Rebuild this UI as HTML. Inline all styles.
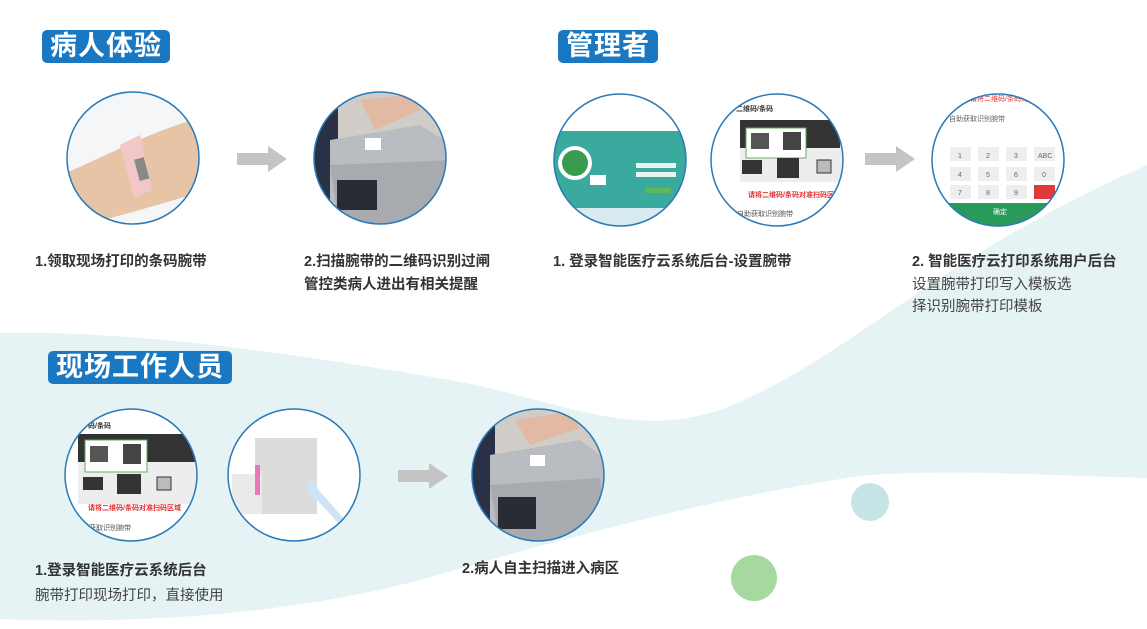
<!DOCTYPE html>
<html><head><meta charset="utf-8"><style>
html,body{margin:0;padding:0;background:#fff;}
body{width:1147px;height:629px;overflow:hidden;position:relative;font-family:"Liberation Sans","Noto Sans CJK SC",sans-serif;}
.h{position:absolute;background:#1a78c2;color:#fff;font-weight:bold;font-size:27px;line-height:33px;border-radius:5px;padding:0 8px;letter-spacing:1px;}
.t{position:absolute;color:#333;font-size:14.5px;font-weight:bold;white-space:nowrap;}
.n{position:absolute;color:#444;font-size:14.5px;white-space:nowrap;}
svg{position:absolute;left:0;top:0;}
</style></head><body>
<svg width="1147" height="629" viewBox="0 0 1147 629">
<defs>
<clipPath id="c1"><circle cx="133" cy="158" r="66"/></clipPath>
<clipPath id="c2"><circle cx="380" cy="158" r="66"/></clipPath>
<clipPath id="c3"><circle cx="620" cy="160" r="66"/></clipPath>
<clipPath id="c4"><circle cx="777" cy="160" r="66"/></clipPath>
<clipPath id="c5"><circle cx="998" cy="160" r="66"/></clipPath>
<clipPath id="c6"><circle cx="131" cy="475" r="66"/></clipPath>
<clipPath id="c7"><circle cx="294" cy="475" r="66"/></clipPath>
<clipPath id="c8"><circle cx="538" cy="475" r="66"/></clipPath>
</defs>
<path d="M0,333 C150,330 330,360 450,380 C560,400 630,440 720,410 C850,360 930,260 1147,165 L1147,478 C1050,476 950,468 860,476 C700,500 560,540 420,580 C300,612 150,625 0,619 Z" fill="#e6f3f4"/>
<circle cx="870" cy="502" r="19" fill="#c6e4e6"/>
<circle cx="754" cy="578" r="23" fill="#a6d8a0"/>
<g fill="#c4c4c4">
<path d="M237,153 H268 V146 L287,159 L268,172 V165 H237 Z"/>
<path d="M865,153 H896 V146 L915,159 L896,172 V165 H865 Z"/>
<path d="M398,470 H429 V463 L448,476 L429,489 V482 H398 Z"/>
</g>
<g clip-path="url(#c1)">
<rect x="60" y="90" width="150" height="140" fill="#f4f6f8"/>
<path d="M60,175 C100,160 150,130 210,115 L210,190 C170,200 130,215 60,230 Z" fill="#e8c4a6"/>
<path d="M120,145 L140,135 L152,190 L134,198 Z" fill="#f3c6c8"/>
<rect x="137" y="158" width="10" height="22" fill="#888" transform="rotate(-15 142 170)"/>
</g>
<circle cx="133" cy="158" r="66" fill="none" stroke="#2a7ab8" stroke-width="1.5"/>
<g clip-path="url(#c2)">
<rect x="310" y="90" width="150" height="140" fill="#d0cdc8"/>
<rect x="310" y="90" width="28" height="140" fill="#2a3046"/>
<path d="M330,140 L420,125 L460,150 L460,230 L330,230 Z" fill="#b9bcc0"/>
<path d="M330,165 L455,160 L460,230 L340,230 Z" fill="#a7abb0"/>
<rect x="365" y="138" width="16" height="12" fill="#fff"/>
<rect x="337" y="180" width="40" height="30" fill="#2a2c33"/>
<path d="M360,100 L410,95 L420,110 L375,130 Z" fill="#e2b9a3"/>
</g>
<circle cx="380" cy="158" r="66" fill="none" stroke="#2a7ab8" stroke-width="1.5"/>
<g clip-path="url(#c3)">
<rect x="550" y="90" width="140" height="140" fill="#fff"/>
<path d="M650,90 L690,90 L690,140 Z" fill="#cfe5ee"/>
<rect x="550" y="131" width="140" height="108" fill="#3aa99e"/>
<circle cx="575" cy="163" r="17" fill="#fff"/><circle cx="575" cy="163" r="13" fill="#3a9a4f"/>
<rect x="590" y="175" width="16" height="10" fill="#fff"/>
<rect x="636" y="163" width="40" height="5" fill="#e8f3f2"/>
<rect x="636" y="172" width="40" height="5" fill="#e8f3f2"/>
<rect x="645" y="188" width="26" height="5" fill="#5cb85c"/>
<rect x="550" y="208" width="140" height="30" fill="#d6eaf0"/>
</g>
<circle cx="620" cy="160" r="66" fill="none" stroke="#2a7ab8" stroke-width="1.5"/>
<g clip-path="url(#c4)" font-size="7" font-family="Liberation Sans,Noto Sans CJK SC,sans-serif">
<rect x="710" y="93" width="135" height="135" fill="#fff"/>
<text x="736" y="111" font-weight="bold" fill="#333">二维码/条码</text>
<rect x="740" y="120" width="105" height="62" fill="#ededed"/>
<rect x="740" y="120" width="100" height="28" fill="#333"/>
<rect x="746" y="128" width="60" height="30" fill="#fff" stroke="#6a6"/>
<rect x="751" y="133" width="18" height="16" fill="#555"/>
<rect x="783" y="132" width="18" height="18" fill="#444"/>
<rect x="742" y="160" width="20" height="14" fill="#333"/>
<rect x="777" y="158" width="22" height="20" fill="#333"/>
<rect x="817" y="160" width="14" height="13" fill="#bbb" stroke="#333"/>
<text x="748" y="197" fill="#e03030" font-weight="bold">请将二维码/条码对准扫码区域</text>
<text x="737" y="216" fill="#555">自助获取识别腕带</text>
</g>
<circle cx="777" cy="160" r="66" fill="none" stroke="#2a7ab8" stroke-width="1.5"/>
<g clip-path="url(#c5)" font-size="7" fill="#666" font-family="Liberation Sans,Noto Sans CJK SC,sans-serif">
<rect x="930" y="93" width="135" height="135" fill="#fff"/>
<text x="970" y="101" fill="#e03030">请将二维码/条码对准扫码</text>
<text x="949" y="121">自助获取识别腕带</text>
<rect x="950" y="147" width="21" height="14" fill="#eee"/><rect x="978" y="147" width="21" height="14" fill="#eee"/><rect x="1006" y="147" width="21" height="14" fill="#eee"/><rect x="1034" y="147" width="21" height="14" fill="#eee"/>
<rect x="950" y="167" width="21" height="14" fill="#eee"/><rect x="978" y="167" width="21" height="14" fill="#eee"/><rect x="1006" y="167" width="21" height="14" fill="#eee"/><rect x="1034" y="167" width="21" height="14" fill="#eee"/>
<rect x="950" y="185" width="21" height="14" fill="#eee"/><rect x="978" y="185" width="21" height="14" fill="#eee"/><rect x="1006" y="185" width="21" height="14" fill="#eee"/><rect x="1034" y="185" width="21" height="14" fill="#e03a3a"/>
<text x="958" y="158">1</text><text x="986" y="158">2</text><text x="1014" y="158">3</text><text x="1038" y="158">ABC</text>
<text x="958" y="177">4</text><text x="986" y="177">5</text><text x="1014" y="177">6</text><text x="1042" y="177">0</text>
<text x="958" y="195">7</text><text x="986" y="195">8</text><text x="1014" y="195">9</text>
<rect x="930" y="203" width="135" height="25" fill="#2a9a5a"/>
<text x="993" y="214" fill="#fff">确定</text>
</g>
<circle cx="998" cy="160" r="66" fill="none" stroke="#2a7ab8" stroke-width="1.5"/>
<g clip-path="url(#c6)" font-size="7" font-family="Liberation Sans,Noto Sans CJK SC,sans-serif">
<rect x="64" y="408" width="135" height="135" fill="#fff"/>
<text x="88" y="428" font-weight="bold" fill="#333">码/条码</text>
<rect x="78" y="434" width="120" height="70" fill="#ededed"/>
<rect x="78" y="434" width="120" height="28" fill="#333"/>
<rect x="85" y="440" width="62" height="32" fill="#fff" stroke="#6a6"/>
<rect x="90" y="446" width="18" height="16" fill="#555"/>
<rect x="123" y="444" width="18" height="20" fill="#444"/>
<rect x="83" y="477" width="20" height="13" fill="#333"/>
<rect x="117" y="474" width="24" height="20" fill="#333"/>
<rect x="157" y="477" width="14" height="13" fill="#bbb" stroke="#333"/>
<text x="88" y="510" fill="#e03030" font-weight="bold">请将二维码/条码对准扫码区域</text>
<text x="89" y="530" fill="#555">获取识别腕带</text>
</g>
<circle cx="131" cy="475" r="66" fill="none" stroke="#2a7ab8" stroke-width="1.5"/>
<g clip-path="url(#c7)">
<rect x="228" y="409" width="133" height="133" fill="#fff"/>
<rect x="255" y="438" width="62" height="76" fill="#dcdcdc"/>
<rect x="232" y="474" width="30" height="40" fill="#eaeaea"/>
<rect x="255" y="465" width="5" height="30" fill="#e879b8"/>
<path d="M310,480 L345,520 L340,525 L305,487 Z" fill="#cfe3f7"/>
</g>
<circle cx="294" cy="475" r="66" fill="none" stroke="#2a7ab8" stroke-width="1.5"/>
<g clip-path="url(#c8)">
<rect x="470" y="408" width="136" height="136" fill="#d0cdc8"/>
<rect x="470" y="408" width="25" height="136" fill="#2a3046"/>
<path d="M490,455 L580,440 L606,460 L606,545 L490,545 Z" fill="#b9bcc0"/>
<path d="M490,485 L600,478 L606,545 L500,545 Z" fill="#a7abb0"/>
<rect x="530" y="455" width="15" height="11" fill="#fff"/>
<rect x="498" y="497" width="38" height="32" fill="#2a2c33"/>
<path d="M515,420 L570,412 L580,428 L530,445 Z" fill="#e2b9a3"/>
</g>
<circle cx="538" cy="475" r="66" fill="none" stroke="#2a7ab8" stroke-width="1.5"/>
</svg>

<div class="h" style="left:42px;top:30px;">病人体验</div>
<div class="h" style="left:558px;top:30px;">管理者</div>
<div class="h" style="left:48px;top:351px;">现场工作人员</div>

<div class="t" style="left:35px;top:250px;">1.领取现场打印的条码腕带</div>
<div class="t" style="left:304px;top:250px;">2.扫描腕带的二维码识别过闸</div>
<div class="t" style="left:304px;top:273px;">管控类病人进出有相关提醒</div>
<div class="t" style="left:553px;top:250px;">1. 登录智能医疗云系统后台-设置腕带</div>
<div class="t" style="left:912px;top:250px;">2. 智能医疗云打印系统用户后台</div>
<div class="n" style="left:912px;top:273px;">设置腕带打印写入模板选</div>
<div class="n" style="left:912px;top:295px;">择识别腕带打印模板</div>
<div class="t" style="left:35px;top:559px;">1.登录智能医疗云系统后台</div>
<div class="n" style="left:35px;top:584px;">腕带打印现场打印，直接使用</div>
<div class="t" style="left:462px;top:557px;">2.病人自主扫描进入病区</div>
</body></html>
